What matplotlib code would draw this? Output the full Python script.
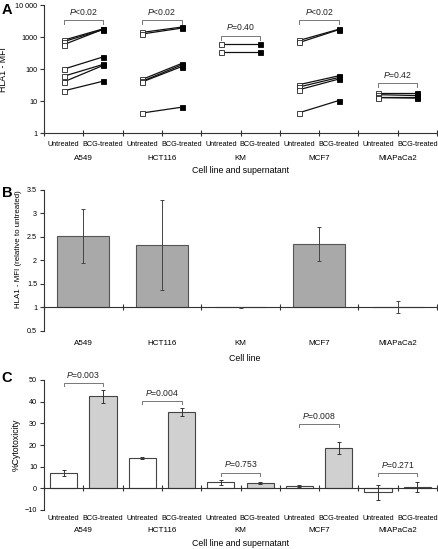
import numpy as np
import matplotlib
matplotlib.use('Agg')
import matplotlib.pyplot as plt

plt.rcParams['font.family'] = ['Liberation Sans', 'DejaVu Sans']
plt.rcParams['mathtext.fontset'] = 'custom'
plt.rcParams['mathtext.it'] = 'Liberation Sans:italic'
plt.rcParams['mathtext.rm'] = 'Liberation Sans'

cell_lines = ['A549', 'HCT116', 'KM', 'MCF7', 'MIAPaCa2']
conditions = ['Untreated', 'BCG-treated']

# panel A: paired HLA1 MFI values (untreated -> BCG-treated)
a549_untr = [800, 720, 580, 100, 60, 40, 21]
a549_bcg = [1800, 1700, 1750, 240, 140, 130, 42]
hct116_untr = [1400, 1250, 48, 42, 40, 4.3]
hct116_bcg = [2050, 1900, 150, 135, 120, 6.5]
km_untr = [630, 350]
km_bcg = [630, 350]
mcf7_untr = [790, 680, 33, 28, 23, 4.4]
mcf7_bcg = [1750, 1700, 62, 55, 49, 10.5]
mia_untr = [18, 16, 14, 13]
mia_bcg = [18, 15, 14, 12.5]
p_a = ['$P$<0.02', '$P$<0.02', '$P$=0.40', '$P$<0.02', '$P$=0.42']
bracket_a = [3400, 3400, 1100, 3400, 37]

# panel B: relative MFI
rel_mfi = [2.52, 2.32, 1.0, 2.34, 1.01]
rel_err = [0.57, 0.96, 0.01, 0.36, 0.13]

# panel C: % cytotoxicity
cyto_untr = [7.1, 13.9, 2.8, 1.0, -1.8]
cyto_untr_err = [1.4, 0.5, 1.1, 0.4, 3.5]
cyto_bcg = [42.5, 35.3, 2.5, 18.7, 0.8]
cyto_bcg_err = [3.0, 1.7, 0.5, 2.9, 2.3]
p_c = ['$P$=0.003', '$P$=0.004', '$P$=0.753', '$P$=0.008', '$P$=0.271']
bracket_c = [48.4, 40.2, 7.2, 29.5, 6.9]

fig = plt.figure(figsize=(4.38, 5.49), dpi=100)
L, W = 44 / 438, 393 / 438
axA = fig.add_axes([L, 1 - 133.3 / 549, W, 128.3 / 549])
axB = fig.add_axes([L, 1 - 330.8 / 549, W, 141 / 549])
axC = fig.add_axes([L, 1 - 510 / 549, W, 130 / 549])

edge = '#333333'
tick_fs = 5.2
cat_fs = 5.8
lab_fs = 6.3


def style(ax):
    for s in ['top', 'right']:
        ax.spines[s].set_visible(False)
    for s in ['left', 'bottom']:
        ax.spines[s].set_color(edge)
        ax.spines[s].set_linewidth(0.8)
    ax.tick_params(axis='y', labelsize=tick_fs, length=3, width=0.8,
                   color=edge, pad=2)
    ax.tick_params(axis='x', direction='inout', length=4, width=0.8,
                   color=edge, labelbottom=False)


def under(ax, x, text, dy_px, size, **kw):
    ax.annotate(text, (x, 0), xycoords=('data', 'axes fraction'),
                xytext=(0, -dy_px * 0.72), textcoords='offset points',
                ha='center', va='center', fontsize=size, **kw)


def bracket(ax, x0, x1, y, text, log=False):
    drop = y / 1.35 if log else y - 1.3
    ax.plot([x0, x0, x1, x1], [drop, y, y, drop], color='#777777', lw=0.7)
    ax.annotate(text, ((x0 + x1) / 2, y), xytext=(0, 2.5),
                textcoords='offset points', ha='center', va='bottom',
                fontsize=6.2, color='#222222')


# ---- panel A
style(axA)
untr_all = [a549_untr, hct116_untr, km_untr, mcf7_untr, mia_untr]
bcg_all = [a549_bcg, hct116_bcg, km_bcg, mcf7_bcg, mia_bcg]
for i in range(5):
    xu, xb = 2 * i, 2 * i + 1
    for u, b in zip(untr_all[i], bcg_all[i]):
        axA.plot([xu, xb], [u, b], color='#111111', lw=0.9, zorder=2)
    axA.plot([xb] * len(bcg_all[i]), bcg_all[i], 's', ms=3.6,
             mfc='black', mec='black', mew=0.6, zorder=3)
    axA.plot([xu] * len(untr_all[i]), untr_all[i], 's', ms=3.6,
             mfc='white', mec='#222222', mew=0.6, zorder=3)
    bracket(axA, xu, xb, bracket_a[i], p_a[i], log=True)
axA.set_yscale('log')
axA.set_ylim(1, 10000)
axA.set_xlim(-0.5, 9.5)
axA.set_yticks([1, 10, 100, 1000, 10000])
axA.set_yticklabels(['1', '10', '100', '1000', '10 000'])
axA.yaxis.set_minor_locator(matplotlib.ticker.NullLocator())
axA.set_xticks(np.arange(-0.5, 10, 1))
for k in range(10):
    under(axA, k, conditions[k % 2], 11, tick_fs)
for i, c in enumerate(cell_lines):
    under(axA, 2 * i + 0.5, c, 25, cat_fs)
under(axA, 4.5, 'Cell line and supernatant', 37, lab_fs)
axA.set_ylabel('HLA1 - MFI', fontsize=lab_fs)
axA.yaxis.set_label_coords(-0.092, 0.5)

# ---- panel B
style(axB)
xb = np.arange(5)
axB.bar(xb, np.array(rel_mfi) - 1, bottom=1, width=0.66, color='#a9a9a9',
        edgecolor='#555555', lw=0.8, zorder=2)
axB.errorbar(xb, rel_mfi, yerr=rel_err, fmt='none', ecolor='#444444',
             elinewidth=0.7, capsize=1.5, capthick=0.7, zorder=3)
axB.set_ylim(0.5, 3.5)
axB.set_xlim(-0.5, 4.5)
axB.set_yticks(np.arange(0.5, 3.6, 0.5))
axB.set_yticklabels(['0.5', '1', '1.5', '2', '2.5', '3', '3.5'])
axB.spines['bottom'].set_position(('data', 1))
axB.set_xticks(np.arange(-0.5, 5, 1))
for i, c in enumerate(cell_lines):
    under(axB, i, c, 13, cat_fs)
under(axB, 2.05, 'Cell line', 28, lab_fs)
axB.set_ylabel('HLA1 - MFI (relative to untreated)', fontsize=5.7)
axB.yaxis.set_label_coords(-0.056, 0.58)

# ---- panel C
style(axC)
xu = np.arange(5) * 2
axC.bar(xu, cyto_untr, width=0.69, color='white', edgecolor='#444444',
        lw=0.8, zorder=2)
axC.bar(xu + 1, cyto_bcg, width=0.69, color='#d0d0d0', edgecolor='#444444',
        lw=0.8, zorder=2)
axC.errorbar(xu, cyto_untr, yerr=cyto_untr_err, fmt='none', ecolor='#333333',
             elinewidth=0.7, capsize=1.5, capthick=0.7, zorder=3)
axC.errorbar(xu + 1, cyto_bcg, yerr=cyto_bcg_err, fmt='none',
             ecolor='#333333', elinewidth=0.7, capsize=1.5, capthick=0.7,
             zorder=3)
for i in range(5):
    bracket(axC, xu[i], xu[i] + 1, bracket_c[i], p_c[i])
axC.set_ylim(-10, 50)
axC.set_xlim(-0.5, 9.5)
axC.set_yticks(np.arange(-10, 51, 10))
axC.set_yticklabels(['\u221210', '0', '10', '20', '30', '40', '50'])
axC.spines['bottom'].set_position(('data', 0))
axC.set_xticks(np.arange(-0.5, 10, 1))
for k in range(10):
    under(axC, k, conditions[k % 2], 9, tick_fs)
for i, c in enumerate(cell_lines):
    under(axC, 2 * i + 0.5, c, 21, cat_fs)
under(axC, 4.5, 'Cell line and supernatant', 33, lab_fs)
axC.set_ylabel('%Cytotoxicity', fontsize=lab_fs)
axC.yaxis.set_label_coords(-0.059, 0.5)

for y, t in [(10, 'A'), (193, 'B'), (378, 'C')]:
    fig.text(0.004, 1 - y / 549, t, fontsize=10.5, fontweight='bold',
             va='center', ha='left')

fig.savefig('out.png', dpi=100)
